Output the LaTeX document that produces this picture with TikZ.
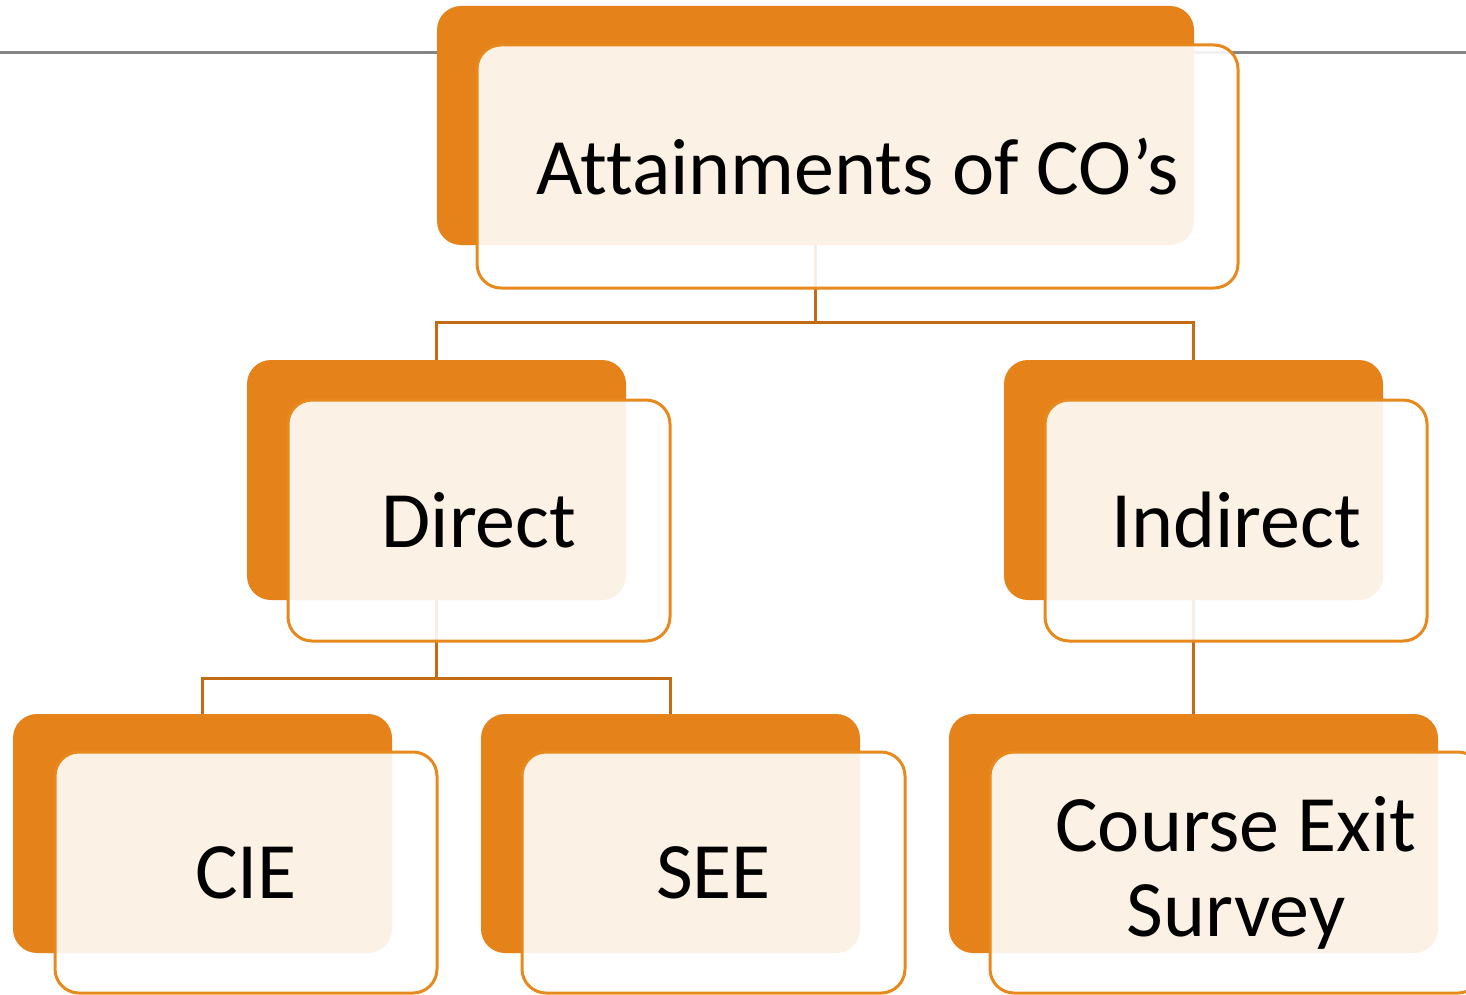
\documentclass[tikz,border=0pt]{standalone}
\usepackage{fontspec}
\setmainfont{Carlito}[Ligatures={TeX,NoCommon}]
\definecolor{orangeA}{HTML}{E5821A}
\definecolor{orangeB}{HTML}{E8891E}
\definecolor{conn}{HTML}{C26A14}
\definecolor{grayline}{HTML}{858585}
\begin{document}
\begin{tikzpicture}[x=1pt,y=-1pt,
  backbox/.style={fill=orangeA, draw=none, rounded corners=24pt, inner sep=0pt, outer sep=0pt},
  frontbox/.style={fill=white, fill opacity=0.89, text opacity=1, draw=orangeB, draw opacity=1,
    line width=3pt, rounded corners=24pt, inner sep=0pt, outer sep=0pt,
    font=\fontsize{80}{85}\selectfont, align=center, text=black},
  link/.style={draw=conn, line width=3pt}]
\useasboundingbox (0,0) rectangle (1466,995);
% title underline
\coordinate (gl) at (0,53);
\coordinate (gr) at (1466,53);
\draw[grayline, line width=3pt] (gl) -- (gr);
% back boxes
\node[backbox, minimum width=757pt, minimum height=239pt] (topB) at (815.5,125.5) {};
\node[backbox, minimum width=379pt, minimum height=240pt] (dirB) at (436.5,480) {};
\node[backbox, minimum width=379pt, minimum height=240pt] (indB) at (1193.5,480) {};
\node[backbox, minimum width=379pt, minimum height=239pt] (cieB) at (202.5,833.5) {};
\node[backbox, minimum width=379pt, minimum height=239pt] (seeB) at (670.5,833.5) {};
\node[backbox, minimum width=489pt, minimum height=239pt] (cesB) at (1193.5,833.5) {};
% connectors
\draw[link] (topB.south) -- ++(0,77) coordinate (j1);
\draw[link] (j1) -| (dirB.north);
\draw[link] (j1) -| (indB.north);
\draw[link] (dirB.south) -- ++(0,78) coordinate (j2);
\draw[link] (j2) -| (cieB.north);
\draw[link] (j2) -| (seeB.north);
\draw[link] (indB.south) -- (cesB.north);
% front boxes
\node[frontbox, minimum width=761pt, minimum height=243pt] (top) at (857.5,166.5) {Attainments of CO’s};
\node[frontbox, minimum width=382pt, minimum height=241pt] (dir) at (479,520.5) {Direct};
\node[frontbox, minimum width=382pt, minimum height=241pt] (ind) at (1236,520.5) {Indirect};
\node[frontbox, minimum width=382pt, minimum height=241pt] (cie) at (246,872.5) {CIE};
\node[frontbox, minimum width=383pt, minimum height=241pt] (see) at (713.5,872.5) {SEE};
\node[frontbox, minimum width=492pt, minimum height=241pt] (ces) at (1236,872.5) {Course Exit\\Survey};
\end{tikzpicture}
\end{document}
